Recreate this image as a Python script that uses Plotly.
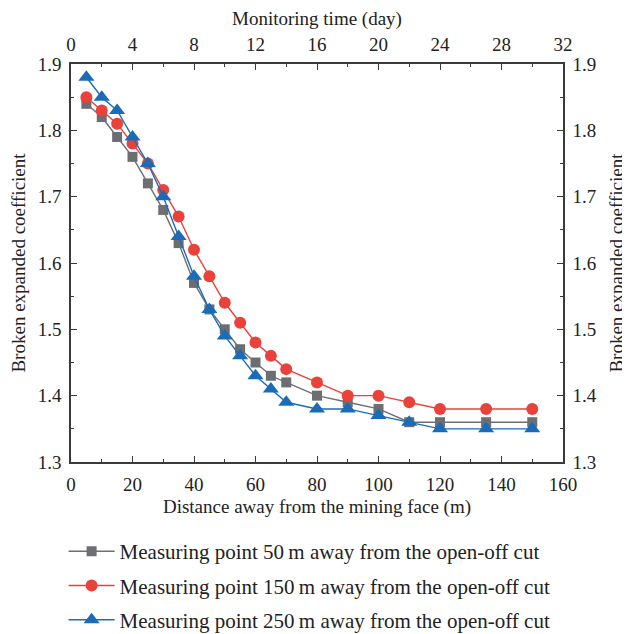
import plotly.graph_objects as go

distance = [5, 10, 15, 20, 25, 30, 35, 40, 45, 50, 55, 60, 65, 70, 80, 90, 100, 110, 120, 135, 150]
p50 = [1.84, 1.82, 1.79, 1.76, 1.72, 1.68, 1.63, 1.57, 1.53, 1.50, 1.47, 1.45, 1.43, 1.42, 1.40, 1.39, 1.38, 1.36, 1.36, 1.36, 1.36]
p150 = [1.85, 1.83, 1.81, 1.78, 1.75, 1.71, 1.67, 1.62, 1.58, 1.54, 1.51, 1.48, 1.46, 1.44, 1.42, 1.40, 1.40, 1.39, 1.38, 1.38, 1.38]
p250 = [1.88, 1.85, 1.83, 1.79, 1.75, 1.70, 1.64, 1.58, 1.53, 1.49, 1.46, 1.43, 1.41, 1.39, 1.38, 1.38, 1.37, 1.36, 1.35, 1.35, 1.35]
names = [
    "Measuring point 50\u2009m away from the open-off cut",
    "Measuring point 150\u2009m away from the open-off cut",
    "Measuring point 250\u2009m away from the open-off cut",
]

FONT = "Liberation Serif"
AXC = "#3a3a3a"

fig = go.Figure()
styles = [
    (p50, "#6d6e71", "square", 10),
    (p150, "#e8423b", "circle", 12),
    (p250, "#1a6cb8", "triangle-up", 14),
]
for i, (ys, col, sym, sz) in enumerate(styles):
    fig.add_trace(go.Scatter(
        x=distance, y=ys, name=names[i], mode="lines+markers",
        line=dict(color=col, width=1.4),
        marker=dict(symbol=sym, size=sz, color=col),
        legendgroup=f"g{i}",
    ))

# invisible trace to activate the top / right axes
fig.add_trace(go.Scatter(x=[0], y=[1.3], xaxis="x2", yaxis="y2", mode="markers",
                         marker=dict(opacity=0), showlegend=False, hoverinfo="skip"))

axis_common = dict(showline=True, linecolor=AXC, linewidth=1.5, ticks="inside",
                   ticklen=6, tickwidth=1.2, tickcolor=AXC, showgrid=False, zeroline=False,
                   automargin=False, ticklabelstandoff=4,
                   tickfont=dict(family=FONT, size=19, color="#222"))
TF = dict(family=FONT, size=19, color="#222")

fig.update_layout(
    width=630, height=634,
    margin=dict(l=63, r=75, t=56, b=180),
    plot_bgcolor="white", paper_bgcolor="white",
    font=dict(family=FONT, size=19, color="#222"),
    xaxis=dict(range=[0, 160], dtick=20, tick0=0,
               minor=dict(ticks="inside", dtick=10, ticklen=3, tickcolor=AXC),
               title=dict(text="Distance away from the mining face (m)", font=TF, standoff=6),
               **axis_common),
    yaxis=dict(range=[1.3, 1.9], dtick=0.1, tick0=1.3, tickformat=".1f",
               minor=dict(ticks="inside", dtick=0.05, ticklen=3, tickcolor=AXC),
               title=dict(text="Broken expanded coefficient", font=TF, standoff=10),
               **axis_common),
    xaxis2=dict(range=[0, 32], dtick=4, tick0=0, overlaying="x", side="top", anchor="y",
                minor=dict(ticks="inside", dtick=2, ticklen=3, tickcolor=AXC),
                title=dict(text="Monitoring time (day)", font=TF, standoff=4),
                **axis_common),
    yaxis2=dict(range=[1.3, 1.9], dtick=0.1, tick0=1.3, tickformat=".1f", overlaying="y", side="right", anchor="x",
                minor=dict(ticks="inside", dtick=0.05, ticklen=3, tickcolor=AXC),
                title=dict(text="Broken expanded coefficient", font=TF, standoff=14),
                **axis_common),
    legend=dict(x=-0.015, xref="paper", y=0.175, yref="container", xanchor="left", yanchor="top",
                orientation="v",
                font=dict(family=FONT, size=21, color="#222"), tracegroupgap=4,
                bgcolor="rgba(0,0,0,0)", itemwidth=46),
    showlegend=True,
)

fig.write_html("out.html")
